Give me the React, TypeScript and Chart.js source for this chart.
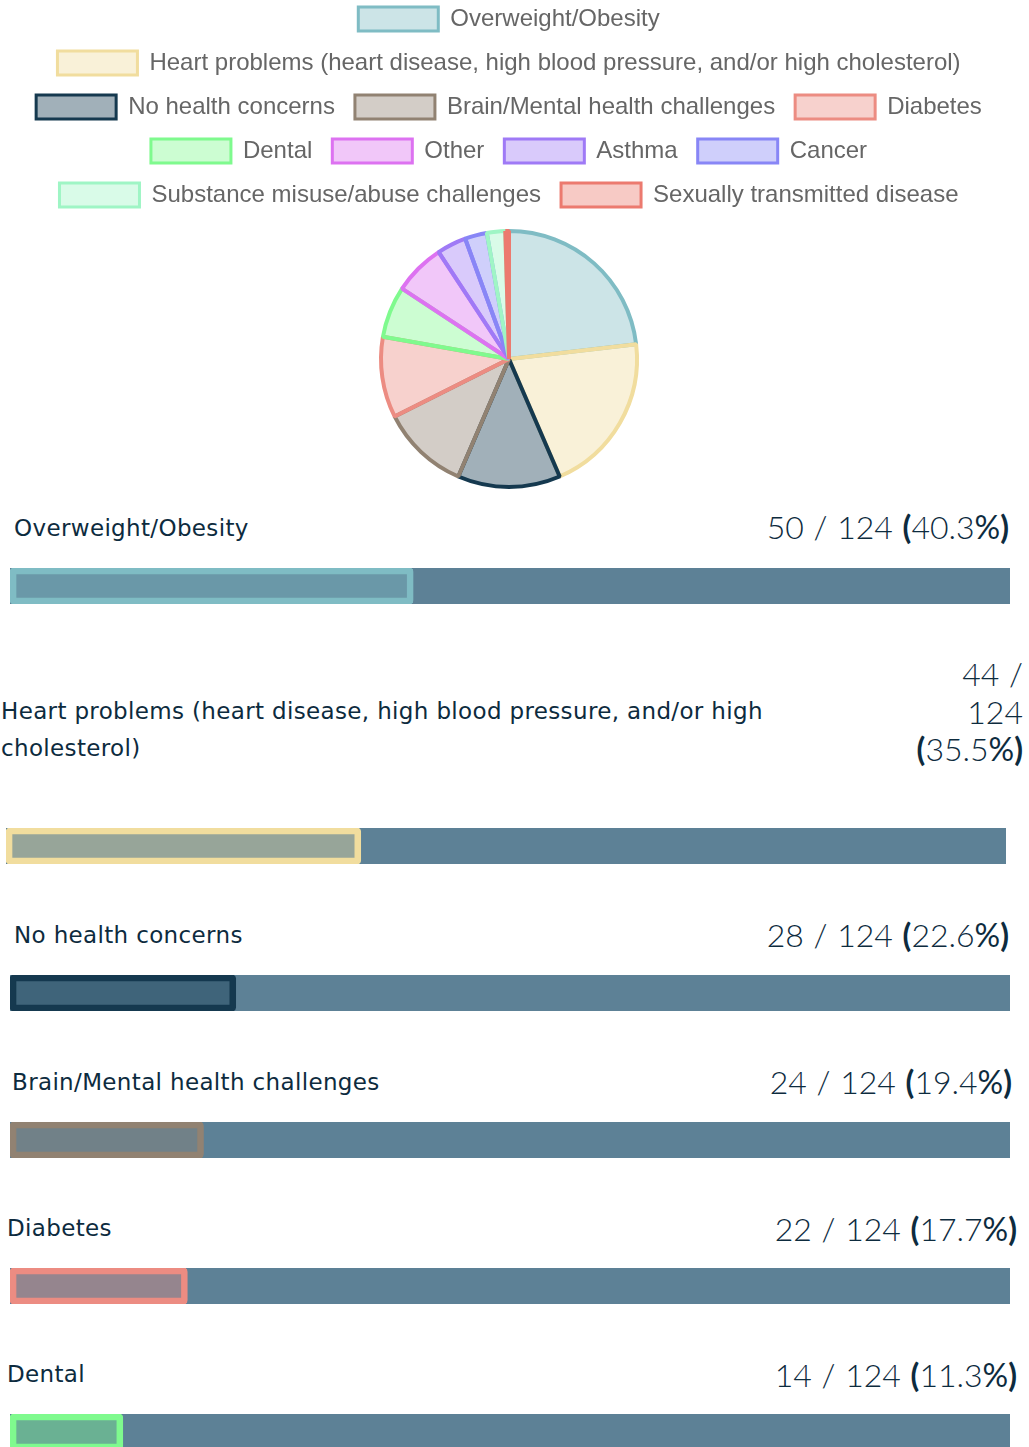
import React, { useEffect, useRef } from "react";
import { Chart, registerables } from "chart.js";

Chart.register(...registerables);

// ---- Data ----
const categories = [
  "Overweight/Obesity",
  "Heart problems (heart disease, high blood pressure, and/or high cholesterol)",
  "No health concerns",
  "Brain/Mental health challenges",
  "Diabetes",
  "Dental",
  "Other",
  "Asthma",
  "Cancer",
  "Substance misuse/abuse challenges",
  "Sexually transmitted disease",
];
const counts = [50, 44, 28, 24, 22, 14, 14, 8, 6, 5, 1];
const totalRespondents = 124;
const borderColors = [
  "#7fbcc4",
  "#f1dd9e",
  "#15394f",
  "#918272",
  "#ec8c82",
  "#7ffa8e",
  "#dd72f1",
  "#9f7af6",
  "#8886f6",
  "#9ff5c5",
  "#ec7a6f",
];

// ---- Styles / layout ----
const TRACK = "#5d8196";
const TEXT = "#0d2b3e";
const LABEL_FONT = "'DejaVu Sans', Verdana, sans-serif";
const VALUE_FONT = "Lato, 'Open Sans', sans-serif";

function alpha(hex: string, a: number) {
  const n = parseInt(hex.slice(1), 16);
  return `rgba(${(n >> 16) & 255}, ${(n >> 8) & 255}, ${n & 255}, ${a})`;
}

// row layout: label x / label centre y / value right / value centre y / bar x / bar top
const rowLayout = [
  { lx: 14, ly: 528, vr: 1009, vy: 528, bx: 10, by: 568, labelW: 740, valueW: 400 },
  { lx: 1, ly: 711.5, vr: 1023, vy: 675, bx: 6, by: 828, labelW: 790, valueW: 112 },
  { lx: 14, ly: 935, vr: 1009, vy: 936, bx: 10, by: 975, labelW: 740, valueW: 400 },
  { lx: 12, ly: 1082, vr: 1012, vy: 1083, bx: 10, by: 1122, labelW: 740, valueW: 400 },
  { lx: 7, ly: 1228, vr: 1017, vy: 1230, bx: 10, by: 1268, labelW: 740, valueW: 400 },
  { lx: 7, ly: 1374, vr: 1017, vy: 1376, bx: 10, by: 1414, labelW: 740, valueW: 400 },
];
function layoutFor(i: number) {
  if (i < rowLayout.length) return rowLayout[i];
  const last = rowLayout[rowLayout.length - 1];
  const k = i - rowLayout.length + 1;
  return { ...last, ly: last.ly + 146 * k, vy: last.vy + 146 * k, by: last.by + 146 * k };
}

function PieChart() {
  const ref = useRef<HTMLCanvasElement>(null);
  useEffect(() => {
    const chart = new Chart(ref.current!, {
      type: "pie",
      data: {
        labels: categories,
        datasets: [
          {
            data: counts,
            backgroundColor: borderColors.map((c) => alpha(c, 0.4)),
            borderColor: borderColors,
            borderWidth: 4,
            radius: 128,
          } as any,
        ],
      },
      options: {
        animation: false,
        responsive: false,
        events: [],
        layout: { padding: 0 },
        plugins: {
          tooltip: { enabled: false },
          legend: {
            position: "top",
            labels: {
              boxWidth: 80,
              padding: 20,
              color: "#666",
              font: { family: "'Liberation Sans', Arial, sans-serif", size: 24 },
              generateLabels: (c: any) => {
                const items = Chart.overrides.pie.plugins.legend.labels.generateLabels(c);
                return items.map((it: any) => ({ ...it, lineWidth: 3 }));
              },
            },
          },
        },
      },
    });
    return () => chart.destroy();
  }, []);
  return (
    <div style={{ position: "absolute", left: 8, top: -13, width: 1002, height: 514 }}>
      <canvas ref={ref} width={1002} height={514} style={{ display: "block" }} />
    </div>
  );
}

function ProgressBar({ value, color }: { value: number; color: string }) {
  const ref = useRef<HTMLCanvasElement>(null);
  useEffect(() => {
    const chart = new Chart(ref.current!, {
      type: "bar",
      data: {
        labels: [""],
        datasets: [
          {
            data: [value],
            backgroundColor: alpha(color, 0.4),
            borderColor: color,
            borderWidth: 6,
            borderRadius: 4,
            borderSkipped: false,
            grouped: false,
            order: 1,
            barPercentage: 1,
            categoryPercentage: 1,
          } as any,
          {
            data: [totalRespondents],
            backgroundColor: TRACK,
            borderWidth: 0,
            grouped: false,
            order: 2,
            barPercentage: 1,
            categoryPercentage: 1,
          } as any,
        ],
      },
      options: {
        indexAxis: "y",
        animation: false,
        responsive: false,
        events: [],
        layout: { padding: 0 },
        scales: {
          x: { display: false, min: 0, max: totalRespondents },
          y: { display: false },
        },
        plugins: { legend: { display: false }, tooltip: { enabled: false } },
      },
    });
    return () => chart.destroy();
  }, [value, color]);
  return <canvas ref={ref} width={1000} height={36} style={{ display: "block" }} />;
}

export default function App() {
  return (
    <div
      style={{
        position: "absolute",
        left: 0,
        top: 0,
        width: 1029,
        height: 1447,
        overflow: "hidden",
        background: "#fff",
        color: TEXT,
      }}
    >
      <PieChart />
      {categories.map((cat, i) => {
        const L = layoutFor(i);
        const pct = ((counts[i] / totalRespondents) * 100).toFixed(1);
        return (
          <React.Fragment key={cat}>
            <div
              style={{
                position: "absolute",
                left: L.lx,
                top: L.ly - 18.5,
                width: L.labelW,
                fontFamily: LABEL_FONT,
                fontSize: 23,
                lineHeight: "37px",
                letterSpacing: 0.35,
                whiteSpace: "normal",
              }}
            >
              {cat}
            </div>
            <div
              style={{
                position: "absolute",
                left: L.vr - L.valueW,
                top: L.vy - 20,
                width: L.valueW,
                textAlign: "right",
                fontFamily: VALUE_FONT,
                fontSize: 32,
                fontWeight: 300,
                lineHeight: "37.5px",
                wordSpacing: 1,
              }}
            >
              {counts[i]} / {totalRespondents} <span style={{ fontWeight: 700 }}>(</span>
              {pct}
              <span style={{ fontWeight: 400 }}>%</span>
              <span style={{ fontWeight: 700 }}>)</span>
            </div>
            <div style={{ position: "absolute", left: L.bx, top: L.by, width: 1000, height: 36 }}>
              <ProgressBar value={counts[i]} color={borderColors[i]} />
            </div>
          </React.Fragment>
        );
      })}
    </div>
  );
}
